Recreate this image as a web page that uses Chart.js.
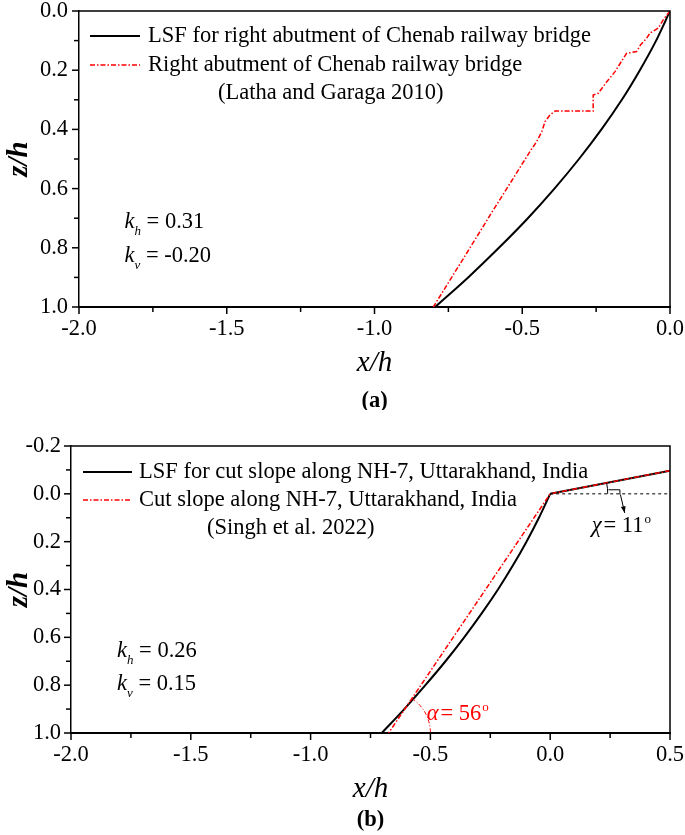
<!DOCTYPE html>
<html>
<head>
<meta charset="utf-8">
<script src="https://cdn.jsdelivr.net/npm/chart.js@4.4.0/dist/chart.umd.min.js"></script>
<style>
html,body{margin:0;padding:0;background:#fff;}
#wrap{position:relative;width:685px;height:835px;background:#fff;}
canvas{position:absolute;left:0;}
#cA{top:0;width:685px;height:410px;}
#cB{top:420px;width:685px;height:415px;}
</style>
</head>
<body>
<div id="wrap">
<canvas id="cA" width="685" height="410"></canvas>
<canvas id="cB" width="685" height="415"></canvas>
</div>
<script>
// ---------- Panel (a) data ----------
const lsfA_x = [0.000, -0.047, -0.102, -0.163, -0.232, -0.308, -0.391, -0.481, -0.579, -0.683, -0.795];
const lsfA_z = [0.000, 0.100, 0.200, 0.300, 0.400, 0.500, 0.600, 0.700, 0.800, 0.900, 1.000];
const obsA_x = [0.000, -0.023, -0.040, -0.068, -0.079, -0.100, -0.113, -0.147, -0.158, -0.186, -0.214, -0.243, -0.260, -0.260, -0.389, -0.406, -0.423, -0.434, -0.451, -0.474, -0.543, -0.612, -0.683, -0.742, -0.801];
const obsA_z = [0.000, 0.030, 0.058, 0.075, 0.092, 0.115, 0.137, 0.143, 0.160, 0.205, 0.239, 0.278, 0.284, 0.338, 0.338, 0.351, 0.374, 0.408, 0.441, 0.475, 0.585, 0.695, 0.810, 0.905, 1.000];
const xTicksA = [-2.0, -1.5, -1.0, -0.5, 0.0];
const xMinorA = [-1.75, -1.25, -0.75, -0.25];
const yTicksA = [0.0, 0.2, 0.4, 0.6, 0.8, 1.0];
const yMinorA = [0.1, 0.3, 0.5, 0.7, 0.9];
const legendA = ['LSF for right abutment of Chenab railway bridge', 'Right abutment of Chenab railway bridge', '(Latha and Garaga 2010)'];
const paramsA = ['0.31', '-0.20'];

// ---------- Panel (b) data ----------
const lsfB_x = [0.000, -0.047, -0.099, -0.156, -0.218, -0.286, -0.359, -0.437, -0.521, -0.609, -0.703];
const lsfB_z = [0.000, 0.100, 0.200, 0.300, 0.400, 0.500, 0.600, 0.700, 0.800, 0.900, 1.000];
const crestB_x = [0.000, 0.500];
const crestB_z = [0.000, -0.097];
const obsB_x = [0.500, 0.000, -0.6745];
const obsB_z = [-0.097, 0.000, 1.000];
const xTicksB = [-2.0, -1.5, -1.0, -0.5, 0.0, 0.5];
const xMinorB = [-1.75, -1.25, -0.75, -0.25, 0.25];
const yTicksB = [-0.2, 0.0, 0.2, 0.4, 0.6, 0.8, 1.0];
const yMinorB = [-0.1, 0.1, 0.3, 0.5, 0.7, 0.9];
const legendB = ['LSF for cut slope along NH-7, Uttarakhand, India', 'Cut slope along NH-7, Uttarakhand, India', '(Singh et al. 2022)'];
const paramsB = ['0.26', '0.15'];
const chiDeg = '11';
const alphaDeg = '56';

// ---------- common ----------
const SERIF = '"Liberation Serif","Times New Roman",serif';
Chart.defaults.font.family = SERIF;
Chart.defaults.font.size = 22;
Chart.defaults.color = '#000';
const RED = '#ff0000';
const RED_DASH = [5, 2, 1.5, 2];

function pts(xs, zs) { return xs.map((x, i) => ({x: x, y: zs[i]})); }

function axes(o) {
  return {
    x: {
      type: 'linear', min: o.xmin, max: o.xmax,
      afterBuildTicks: s => { s.ticks = o.xt.map(v => ({value: v})); },
      afterFit: s => { s.height = 80; s.paddingLeft = 0; s.paddingRight = 0; },
      grid: {display: false, drawTicks: false},
      border: {display: true, color: '#000', width: 2},
      ticks: {padding: 9, maxRotation: 0, autoSkip: false, color: '#000',
              font: {size: 22.5, family: SERIF}, callback: v => Number(v).toFixed(1)},
      title: {display: true, text: 'x/h', color: '#000',
              font: {size: 29, style: 'italic', family: SERIF}, padding: {top: 0, bottom: 6}}
    },
    y: {
      type: 'linear', reverse: true, min: o.ymin, max: o.ymax,
      afterBuildTicks: s => { s.ticks = o.yt.map(v => ({value: v})); },
      afterFit: s => { s.width = o.yw; s.paddingTop = 0; s.paddingBottom = 0; },
      grid: {display: false, drawTicks: false},
      border: {display: true, color: '#000', width: 1.5},
      ticks: {padding: o.ypad, autoSkip: false, color: '#000',
              font: {size: 22.5, family: SERIF}, callback: v => Number(v).toFixed(1)},
      title: {display: true, text: 'z/h', color: '#000',
              font: {size: 29, style: 'italic', weight: 'bold', family: SERIF}, padding: {top: 2, bottom: 0}}
    }
  };
}

function drawK(ctx, x, y, sub, val, color) {
  ctx.fillStyle = color || '#000';
  ctx.textAlign = 'left';
  ctx.textBaseline = 'alphabetic';
  ctx.font = 'italic 22.5px ' + SERIF;
  ctx.fillText('k', x, y);
  let w = ctx.measureText('k').width;
  ctx.font = 'italic 13px ' + SERIF;
  ctx.fillText(sub, x + w, y + 7);
  w += ctx.measureText(sub).width;
  ctx.font = '22.5px ' + SERIF;
  ctx.fillText(' = ' + val, x + w, y);
}

function drawAngle(ctx, x, y, sym, val, color) {
  ctx.fillStyle = color;
  ctx.textAlign = 'left';
  ctx.textBaseline = 'alphabetic';
  ctx.font = 'italic 22.5px ' + SERIF;
  ctx.fillText(sym, x, y);
  let w = ctx.measureText(sym).width + 2;
  ctx.font = '22.5px ' + SERIF;
  ctx.fillText('= ' + val, x + w, y);
  w += ctx.measureText('= ' + val).width + 1;
  ctx.font = '13px ' + SERIF;
  ctx.fillText('o', x + w, y - 9);
}

function decor(cfg) {
  return {
    id: 'decor' + cfg.name,
    afterDraw(chart) {
      const ctx = chart.ctx, a = chart.chartArea, xs = chart.scales.x, ys = chart.scales.y;
      ctx.save();
      // frame (top, right)
      ctx.strokeStyle = '#000'; ctx.lineWidth = 1.5; ctx.setLineDash([]);
      ctx.beginPath();
      ctx.moveTo(a.left, a.top); ctx.lineTo(a.right, a.top); ctx.lineTo(a.right, a.bottom);
      ctx.stroke();
      // tick marks
      ctx.lineWidth = 1.5;
      const tx = (v, len) => { const p = xs.getPixelForValue(v); ctx.beginPath(); ctx.moveTo(p, a.bottom); ctx.lineTo(p, a.bottom + len); ctx.stroke(); };
      const ty = (v, len) => { const p = ys.getPixelForValue(v); ctx.beginPath(); ctx.moveTo(a.left, p); ctx.lineTo(a.left - len, p); ctx.stroke(); };
      cfg.xMaj.forEach(v => tx(v, 7)); cfg.xMin.forEach(v => tx(v, 5));
      cfg.yMaj.forEach(v => ty(v, 7)); cfg.yMin.forEach(v => ty(v, 5));
      // legend
      const L = cfg.legend;
      ctx.font = '22.5px ' + SERIF; ctx.textBaseline = 'middle'; ctx.textAlign = 'left';
      for (let i = 0; i < 2; i++) {
        const yy = a.top + L.rows[i];
        ctx.beginPath();
        ctx.strokeStyle = i === 0 ? '#000' : RED;
        ctx.lineWidth = i === 0 ? 2 : 1.5;
        ctx.setLineDash(i === 0 ? [] : RED_DASH);
        ctx.moveTo(a.left + L.l0, yy); ctx.lineTo(a.left + L.l1, yy); ctx.stroke();
        ctx.setLineDash([]);
        ctx.fillStyle = '#000';
        ctx.fillText(L.text[i], a.left + L.tx, yy);
      }
      ctx.fillText(L.text[2], a.left + L.x3, a.top + L.rows[2]);
      // params
      drawK(ctx, xs.getPixelForValue(cfg.kx), ys.getPixelForValue(cfg.kh_z), 'h', cfg.params[0]);
      drawK(ctx, xs.getPixelForValue(cfg.kx), ys.getPixelForValue(cfg.kv_z), 'v', cfg.params[1]);
      if (cfg.extra) cfg.extra(ctx, xs, ys, a);
      // caption
      ctx.fillStyle = '#000';
      ctx.font = 'bold 22.5px ' + SERIF; ctx.textAlign = 'center'; ctx.textBaseline = 'middle';
      ctx.fillText(cfg.caption, (a.left + a.right) / 2, cfg.captionY);
      ctx.restore();
    }
  };
}

// ---------- chart (a) ----------
new Chart(document.getElementById('cA'), {
  type: 'line',
  data: {
    datasets: [
      {label: legendA[1], data: pts(obsA_x, obsA_z), borderColor: RED, borderWidth: 1.5,
       borderDash: RED_DASH, pointRadius: 0, tension: 0, fill: false, order: 0},
      {label: legendA[0], data: pts(lsfA_x, lsfA_z), borderColor: '#000', borderWidth: 2,
       pointRadius: 0, tension: 0.3, fill: false, order: 1}
    ]
  },
  options: {
    responsive: false, animation: false, devicePixelRatio: 1,
    layout: {padding: {left: 0, right: 15, top: 11, bottom: 23}},
    plugins: {legend: {display: false}, tooltip: {enabled: false}},
    scales: axes({xmin: -2, xmax: 0, ymin: 0, ymax: 1, xt: xTicksA, yt: yTicksA, yw: 79, ypad: 11})
  },
  plugins: [decor({
    name: 'A', xMaj: xTicksA, xMin: xMinorA, yMaj: yTicksA, yMin: yMinorA,
    legend: {text: legendA, l0: 11, l1: 61, tx: 69, x3: 139, rows: [25, 54, 82]},
    params: paramsA, kx: -1.846, kh_z: 0.733, kv_z: 0.847,
    caption: '(a)', captionY: 401
  })]
});

// ---------- chart (b) ----------
new Chart(document.getElementById('cB'), {
  type: 'line',
  data: {
    datasets: [
      {label: legendB[1], data: pts(obsB_x, obsB_z), borderColor: RED, borderWidth: 1.5,
       borderDash: RED_DASH, pointRadius: 0, tension: 0, fill: false, order: 0},
      {label: legendB[0], data: pts(lsfB_x, lsfB_z), borderColor: '#000', borderWidth: 2,
       pointRadius: 0, tension: 0.3, fill: false, order: 1},
      {label: legendB[0] + ' (crest)', data: pts(crestB_x, crestB_z), borderColor: '#000', borderWidth: 2,
       pointRadius: 0, tension: 0, fill: false, order: 2}
    ]
  },
  options: {
    responsive: false, animation: false, devicePixelRatio: 1,
    layout: {padding: {left: 0, right: 15, top: 26, bottom: 22}},
    plugins: {legend: {display: false}, tooltip: {enabled: false}},
    scales: axes({xmin: -2, xmax: 0.5, ymin: -0.2, ymax: 1, xt: xTicksB, yt: yTicksB, yw: 71, ypad: 10})
  },
  plugins: [decor({
    name: 'B', xMaj: xTicksB, xMin: xMinorB, yMaj: yTicksB, yMin: yMinorB,
    legend: {text: legendB, l0: 12, l1: 61, tx: 68, x3: 136, rows: [26, 54, 82]},
    params: paramsB, kx: -1.808, kh_z: 0.682, kv_z: 0.820,
    caption: '(b)', captionY: 400,
    extra: (ctx, xs, ys, a) => {
      const X = v => xs.getPixelForValue(v), Y = v => ys.getPixelForValue(v);
      // horizontal reference (dashed)
      ctx.strokeStyle = '#000'; ctx.lineWidth = 1; ctx.setLineDash([3, 3]);
      ctx.beginPath(); ctx.moveTo(X(0), Y(0)); ctx.lineTo(X(0.5), Y(0)); ctx.stroke();
      ctx.setLineDash([]);
      // chi arc
      const cx = X(0), cy = Y(0);
      const r1 = X(0.24) - X(0);
      const ang1 = Math.atan2(Y(crestB_z[1]) - cy, X(crestB_x[1]) - cx);
      ctx.beginPath(); ctx.arc(cx, cy, r1, ang1, 0); ctx.stroke();
      // leader + arrow
      ctx.beginPath();
      ctx.moveTo(X(0.243), Y(-0.017)); ctx.lineTo(X(0.291), Y(-0.017)); ctx.lineTo(X(0.291), Y(0.003));
      ctx.stroke();
      const ax0 = X(0.293), ay0 = Y(0.003), ax1 = X(0.311), ay1 = Y(0.080);
      ctx.beginPath(); ctx.moveTo(ax0, ay0); ctx.lineTo(ax1, ay1); ctx.stroke();
      const th = Math.atan2(ay1 - ay0, ax1 - ax0);
      ctx.fillStyle = '#000';
      ctx.beginPath();
      ctx.moveTo(ax1, ay1);
      ctx.lineTo(ax1 - 7 * Math.cos(th - 0.35), ay1 - 7 * Math.sin(th - 0.35));
      ctx.lineTo(ax1 - 7 * Math.cos(th + 0.35), ay1 - 7 * Math.sin(th + 0.35));
      ctx.closePath(); ctx.fill();
      drawAngle(ctx, X(0.173), Y(0.160), '\u03C7', chiDeg, '#000');
      // alpha arc
      const bx = X(obsB_x[2]), by = Y(obsB_z[2]);
      const r2 = X(-0.5) - bx;
      const ang2 = Math.atan2(Y(obsB_z[1]) - by, X(obsB_x[1]) - bx);
      ctx.strokeStyle = RED; ctx.lineWidth = 1; ctx.setLineDash([4, 2, 1, 2]);
      ctx.beginPath(); ctx.arc(bx, by, r2, ang2, 0); ctx.stroke();
      ctx.setLineDash([]);
      drawAngle(ctx, X(-0.5155), Y(0.946), '\u03B1', alphaDeg, RED);
    }
  })]
});
</script>
</body>
</html>
